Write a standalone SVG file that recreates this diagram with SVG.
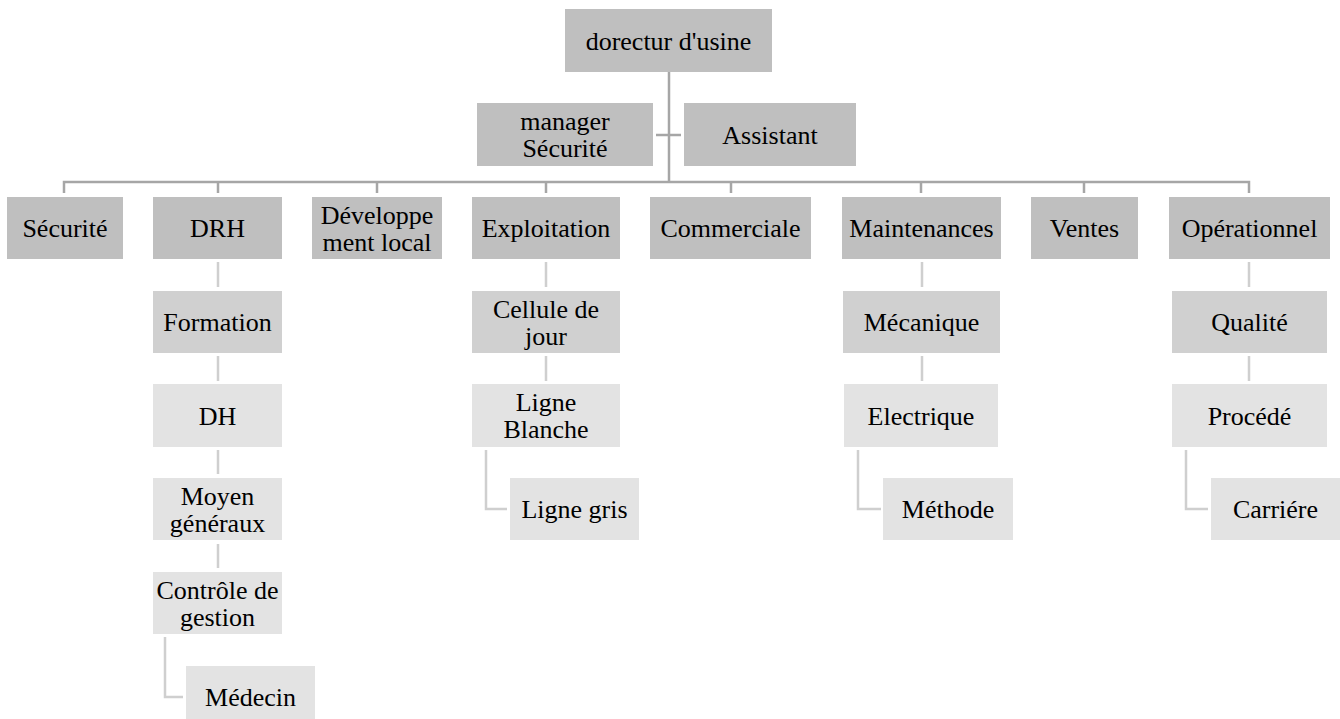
<svg xmlns="http://www.w3.org/2000/svg" width="1340" height="719" viewBox="0 0 1340 719">
<style>
text{font-size:26px;fill:#000;text-anchor:middle}
.l1{fill:#bfbfbf}
.l2{fill:#d0d0d0}
.l3{fill:#e3e3e3}
.top{fill:none;stroke:#a6a6a6;stroke-width:2.5}
.sub{fill:none;stroke:#cfcfcf;stroke-width:2.5}
</style>
<rect width="1340" height="719" fill="#fff"/>
<g id="connectors">
<path class="top" d="M669 72V182M656 135H681M64 193V182H1249V193M218 182V193M377 182V193M546 182V193M731 182V193M921 182V193M1084 182V193"/>
<path class="sub" d="M218 262V287M218 356V381M218 450V474M218 544V568M165 637V697H183"/>
<path class="sub" d="M546 262V287M546 356V381M486 450V509H507"/>
<path class="sub" d="M922 262V287M922 356V381M858 450V509H881"/>
<path class="sub" d="M1249 262V287M1249 356V381M1186 450V509H1208"/>
</g>
<g font-family="Liberation Serif, DejaVu Serif, serif">
<g id="n-directeur"><rect class="l1" x="565" y="9" width="207" height="63"/><text x="668.5" y="49.5">dorectur d'usine</text></g>
<g id="n-manager"><rect class="l1" x="477" y="103" width="176" height="63"/><text x="565" y="130">manager</text><text x="565" y="157">Sécurité</text></g>
<g id="n-assistant"><rect class="l1" x="684" y="103" width="172" height="63"/><text x="770" y="143.5">Assistant</text></g>
<g id="n-securite"><rect class="l1" x="7" y="197" width="116" height="62"/><text x="65" y="237">Sécurité</text></g>
<g id="n-drh"><rect class="l1" x="153" y="197" width="129" height="62"/><text x="217.5" y="237">DRH</text></g>
<g id="n-devlocal"><rect class="l1" x="312" y="197" width="130" height="62"/><text x="377" y="223.5">Développe</text><text x="377" y="250.5">ment local</text></g>
<g id="n-exploitation"><rect class="l1" x="472" y="197" width="148" height="62"/><text x="546" y="237">Exploitation</text></g>
<g id="n-commerciale"><rect class="l1" x="650" y="197" width="161" height="62"/><text x="730.5" y="237">Commerciale</text></g>
<g id="n-maintenances"><rect class="l1" x="842" y="197" width="159" height="62"/><text x="921.5" y="237">Maintenances</text></g>
<g id="n-ventes"><rect class="l1" x="1031" y="197" width="107" height="62"/><text x="1084.5" y="237">Ventes</text></g>
<g id="n-operationnel"><rect class="l1" x="1169" y="197" width="161" height="62"/><text x="1249.5" y="237">Opérationnel</text></g>
<g id="n-formation"><rect class="l2" x="153" y="291" width="129" height="62"/><text x="217.5" y="331">Formation</text></g>
<g id="n-cellule"><rect class="l2" x="472" y="291" width="148" height="62"/><text x="546" y="317.5">Cellule de</text><text x="546" y="344.5">jour</text></g>
<g id="n-mecanique"><rect class="l2" x="843" y="291" width="157" height="62"/><text x="921.5" y="331">Mécanique</text></g>
<g id="n-qualite"><rect class="l2" x="1172" y="291" width="155" height="62"/><text x="1249.5" y="331">Qualité</text></g>
<g id="n-dh"><rect class="l3" x="153" y="384" width="129" height="63"/><text x="217.5" y="424.5">DH</text></g>
<g id="n-ligneblanche"><rect class="l3" x="472" y="384" width="148" height="63"/><text x="546" y="411">Ligne</text><text x="546" y="438">Blanche</text></g>
<g id="n-electrique"><rect class="l3" x="844" y="384" width="154" height="63"/><text x="921" y="424.5">Electrique</text></g>
<g id="n-procede"><rect class="l3" x="1172" y="384" width="155" height="63"/><text x="1249.5" y="424.5">Procédé</text></g>
<g id="n-moyen"><rect class="l3" x="153" y="478" width="129" height="62"/><text x="217.5" y="504.5">Moyen</text><text x="217.5" y="531.5">généraux</text></g>
<g id="n-lignegris"><rect class="l3" x="510" y="478" width="129" height="62"/><text x="574.5" y="518">Ligne gris</text></g>
<g id="n-methode"><rect class="l3" x="883" y="478" width="130" height="62"/><text x="948" y="518">Méthode</text></g>
<g id="n-carriere"><rect class="l3" x="1211" y="478" width="129" height="62"/><text x="1275.5" y="518">Carriére</text></g>
<g id="n-controle"><rect class="l3" x="153" y="572" width="129" height="62"/><text x="217.5" y="598.5">Contrôle de</text><text x="217.5" y="625.5">gestion</text></g>
<g id="n-medecin"><rect class="l3" x="186" y="666" width="129" height="62"/><text x="250.5" y="706">Médecin</text></g>
</g>
</svg>
